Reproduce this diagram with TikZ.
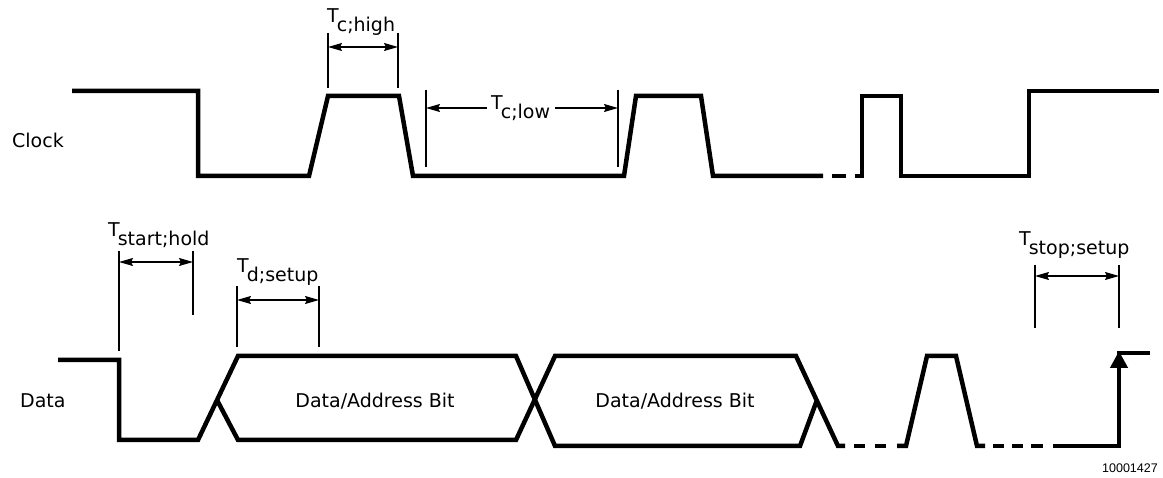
\documentclass[tikz,border=0pt]{standalone}
\usepackage{fontspec}
\setmainfont{DejaVu Sans}
\newfontfamily\numfont{Liberation Sans}
\usetikzlibrary{arrows.meta}
\newcommand\tsub[1]{T\kern-2pt\raisebox{-9.5pt}{#1}}
\begin{document}
\begin{tikzpicture}[x=1pt,y=-1pt,
  wave/.style={line width=4.5pt, line join=miter, line cap=butt},
  tick/.style={line width=1.2pt},
  dimarr/.style={line width=1.2pt, {Stealth[length=14pt,width=8pt,inset=2pt]}-{Stealth[length=14pt,width=8pt,inset=2pt]}},
  onearr/.style={line width=1.2pt, -{Stealth[length=14pt,width=8pt,inset=2pt]}},
  lbl/.style={font=\fontsize{19}{21}\selectfont, inner sep=0pt},
]
\useasboundingbox (0,0) rectangle (1163,478);
\fill[white] (0,0) rectangle (1163,478);

% ---------- Clock ----------
\node[lbl, anchor=west] (clk) at (12,140) {Clock};
\draw[wave] (72,91) -- (198,91) -- (198,176) -- (309,176) -- (328,96) -- (399,96)
  -- (413,176) -- (624,176) -- (636,96) -- (701,96) -- (713,176) -- (823,176);
\draw[wave] (832,176) -- (846,176);
\draw[wave] (855,176) -- (862,176) -- (862,96) -- (901,96) -- (901,176) -- (1029,176)
  -- (1029,91) -- (1159,91);

% T c;high
\node[lbl, anchor=north west] (tch) at (327,8) {\tsub{c;high}};
\coordinate (cha) at (328,33); \coordinate (chb) at (328,88);
\coordinate (chc) at (398,33); \coordinate (chd) at (398,88);
\draw[tick] (cha) -- (chb);
\draw[tick] (chc) -- (chd);
\coordinate (chl) at (328,47); \coordinate (chr) at (398,47);
\draw[dimarr] (chl) -- (chr);

% T c;low
\node[lbl, anchor=north west] (tcl) at (491,95) {\tsub{c;low}};
\coordinate (cla) at (426,90); \coordinate (clb) at (426,167);
\coordinate (clc) at (618,90); \coordinate (cld) at (618,167);
\draw[tick] (cla) -- (clb);
\draw[tick] (clc) -- (cld);
\coordinate (cl1) at (487,108); \coordinate (cl2) at (426,108);
\coordinate (cl3) at (555,108); \coordinate (cl4) at (618,108);
\draw[onearr] (cl1) -- (cl2);
\draw[onearr] (cl3) -- (cl4);

% ---------- Data ----------
\node[lbl, anchor=west] (dat) at (20,401) {Data};
\draw[wave] (58,360) -- (119,360) -- (119,440) -- (198,440) -- (238,356) -- (516,356)
  -- (555,446) -- (800,446) -- (817,400);
\draw[wave] (217,400) -- (238,440) -- (516,440) -- (555,356) -- (796,356) -- (838,446) -- (845,446);
\draw[wave] (854,446) -- (865,446);
\draw[wave] (875,446) -- (886,446);
\draw[wave] (897,446) -- (906,446) -- (927,356) -- (956,356) -- (977,446) -- (985,446);
\draw[wave] (993,446) -- (1004,446);
\draw[wave] (1012,446) -- (1023,446);
\draw[wave] (1031,446) -- (1043,446);
\draw[wave, -{Triangle[length=17pt,width=17pt]}] (1053,446) -- (1119,446) -- (1119,351);
\draw[wave] (1117,353) -- (1150,353);

\node[lbl] (bit1) at (375,401) {Data/Address Bit};
\node[lbl] (bit2) at (675,401) {Data/Address Bit};

% T start;hold
\node[lbl, anchor=north west] (tsh) at (108,222) {\tsub{start;hold}};
\coordinate (sha) at (119,251); \coordinate (shb) at (119,351);
\coordinate (shc) at (193,251); \coordinate (shd) at (193,315);
\draw[tick] (sha) -- (shb);
\draw[tick] (shc) -- (shd);
\coordinate (shl) at (119,262); \coordinate (shr) at (193,262);
\draw[dimarr] (shl) -- (shr);

% T d;setup
\node[lbl, anchor=north west] (tds) at (237,258) {\tsub{d;setup}};
\coordinate (dsa) at (237,286); \coordinate (dsb) at (237,347);
\coordinate (dsc) at (319,286); \coordinate (dsd) at (319,347);
\draw[tick] (dsa) -- (dsb);
\draw[tick] (dsc) -- (dsd);
\coordinate (dsl) at (237,300); \coordinate (dsr) at (319,300);
\draw[dimarr] (dsl) -- (dsr);

% T stop;setup
\node[lbl, anchor=north west] (tss) at (1019,231) {\tsub{stop;setup}};
\coordinate (ssa) at (1035,265); \coordinate (ssb) at (1035,328);
\coordinate (ssc) at (1119,265); \coordinate (ssd) at (1119,328);
\draw[tick] (ssa) -- (ssb);
\draw[tick] (ssc) -- (ssd);
\coordinate (ssl) at (1035,276); \coordinate (ssr) at (1119,276);
\draw[dimarr] (ssl) -- (ssr);

\node[font=\numfont\fontsize{12.5}{14}\selectfont, anchor=east, inner sep=0pt] (fig) at (1158,468) {10001427};
\end{tikzpicture}
\end{document}
